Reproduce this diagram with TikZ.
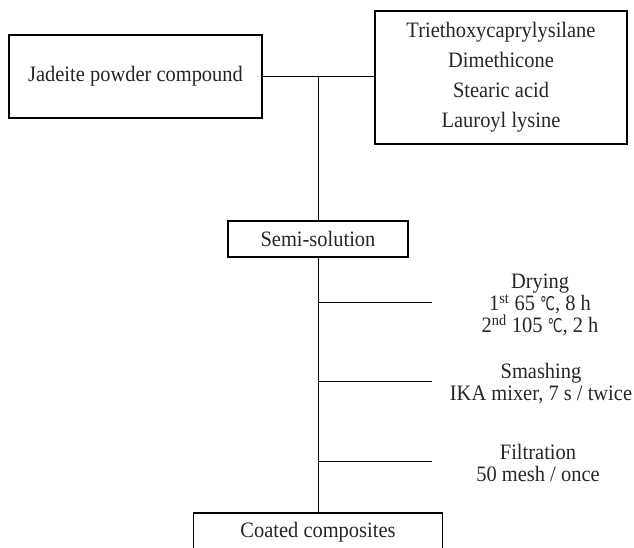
\documentclass[tikz,border=0pt]{standalone}
\usepackage{fontspec}
\setmainfont{Liberation Serif}[FakeStretch=0.93]
\newfontfamily\degfont{DejaVu Sans}[FakeStretch=0.7]
\newcommand{\degc}{{\degfont\fontsize{19}{19}\selectfont ℃}}

\begin{document}
\begin{tikzpicture}[x=1pt, y=-1pt,
                box/.style={draw, line width=1.6pt, inner sep=0pt, text=black!85, font=\fontsize{22}{22}\selectfont},
                link/.style={line width=1pt},
                note/.style={align=center, inner sep=0pt, text=black!85, font=\fontsize{22}{22}\selectfont}]

                \useasboundingbox (0,0) rectangle (634,547);
                \clip (0,0) rectangle (634,547);

                \node[box, minimum width=253pt, minimum height=83pt] (jade) at (135.5,76.5) {Jadeite powder compound};
                \node[box, minimum width=252pt, minimum height=133pt, align=center, font=\fontsize{22}{30}\selectfont] (agents) at (501,77.5) {Triethoxycaprylysilane\\ Dimethicone\\ Stearic acid\\ Lauroyl lysine};
                \coordinate (hub) at (318,76.5);
                \draw[link] (jade) -- (hub) -- (agents.west |- hub);

                \node[box, minimum width=180pt, minimum height=36pt] (semi) at (318,239) {Semi-solution};
                \node[box, minimum width=249pt, minimum height=38pt] (coated) at (318,532) {Coated composites};
                \draw[link] (hub) -- (semi);
                \draw[link] (semi) -- (coated);

                \node[note] (dry) at (540,305) {Drying\\ 1\textsuperscript{st} 65 \degc, 8 h\\ 2\textsuperscript{nd} 105 \degc, 2 h};
                \node[note] (smash) at (541,384) {Smashing\\ IKA mixer, 7 s / twice};
                \node[note] (filt) at (538,462.5) {Filtration\\ 50 mesh / once};

                \foreach \name/\y in {dry/302, smash/381, filt/461}
                    {
                    \coordinate (\name-in) at (318,\y);
                    \coordinate (\name-out) at (432,\y);
                    \draw[link] (\name-in) -- (\name-out);
                    }
            \end{tikzpicture}
\end{document}
